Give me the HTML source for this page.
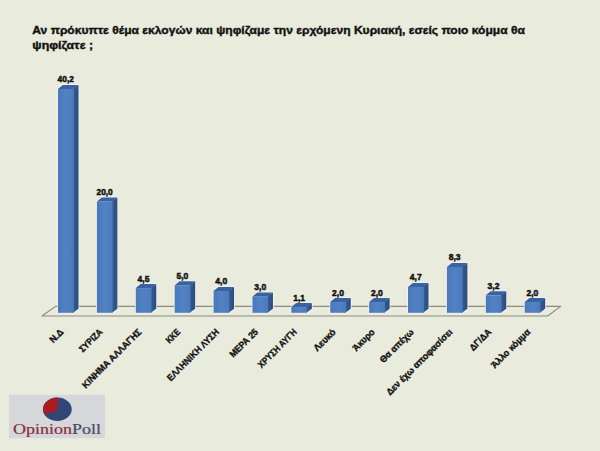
<!DOCTYPE html>
<html><head><meta charset="utf-8">
<style>
html,body{margin:0;padding:0;}
body{width:600px;height:451px;overflow:hidden;background:#E9EBDD;position:relative;}
svg{position:absolute;left:0;top:0;}
text{font-family:"Liberation Sans",sans-serif;font-weight:bold;fill:#111;stroke:#111;stroke-width:0.3px;}
.t{font-size:10.8px;stroke-width:0.38px;}
.v{font-size:9.2px;stroke-width:0.48px;}
.c{font-size:9.3px;stroke-width:0.36px;}
.lg{font-family:"Liberation Serif",serif;font-weight:normal;font-size:14px;stroke-width:0.22px;}
</style></head><body>
<svg width="600" height="451" viewBox="0 0 600 451">
<defs>
<linearGradient id="gf" x1="0" x2="1" y1="0" y2="0">
<stop offset="0" stop-color="#4A79BB"/><stop offset="0.5" stop-color="#5182C2"/><stop offset="1" stop-color="#4B7BBE"/>
</linearGradient>
<linearGradient id="gs" x1="0" x2="1" y1="0" y2="0">
<stop offset="0" stop-color="#365B93"/><stop offset="1" stop-color="#2D4C7C"/>
</linearGradient>
</defs>
<text class="t" x="32.3" y="33.7" textLength="492.7" lengthAdjust="spacingAndGlyphs">Αν πρόκυπτε θέμα εκλογών και ψηφίζαμε την ερχόμενη Κυριακή, εσείς ποιο κόμμα θα</text>
<text class="t" x="32.3" y="49.3" textLength="60.8" lengthAdjust="spacingAndGlyphs">ψηφίζατε ;</text>
<polygon points="42.0,316.0 547.7,316.0 560.6,306.4 55.6,306.4" fill="none" stroke="#8E8B7E" stroke-width="1.15" stroke-linejoin="round"/>
<g>
<polygon points="58.00,312.80 58.00,88.88 62.80,84.88 78.50,84.88 78.50,308.80 73.70,312.80" fill="none" stroke="#F6F7F2" stroke-width="1.6" stroke-opacity="0.8"/>
<polygon points="73.10,88.88 78.50,84.88 78.50,308.80 73.10,312.80" fill="url(#gs)"/>
<rect x="58.00" y="88.88" width="15.70" height="223.92" fill="url(#gf)"/>
<polygon points="58.00,88.88 62.80,84.88 78.50,84.88 73.70,88.88" fill="#3862A1"/>
</g>
<text x="65.75" y="82.38" class="v" text-anchor="middle" textLength="16.3" lengthAdjust="spacingAndGlyphs">40,2</text>
<text x="64.20" y="332.60" class="c" text-anchor="end" textLength="15.52" lengthAdjust="spacingAndGlyphs" transform="rotate(-45 64.20 332.60)">Ν.Δ</text>
<g>
<polygon points="96.89,312.80 96.89,201.60 101.69,197.60 117.39,197.60 117.39,308.80 112.59,312.80" fill="none" stroke="#F6F7F2" stroke-width="1.6" stroke-opacity="0.8"/>
<polygon points="111.99,201.60 117.39,197.60 117.39,308.80 111.99,312.80" fill="url(#gs)"/>
<rect x="96.89" y="201.60" width="15.70" height="111.20" fill="url(#gf)"/>
<polygon points="96.89,201.60 101.69,197.60 117.39,197.60 112.59,201.60" fill="#3862A1"/>
</g>
<text x="104.64" y="195.10" class="v" text-anchor="middle" textLength="16.3" lengthAdjust="spacingAndGlyphs">20,0</text>
<text x="103.09" y="332.60" class="c" text-anchor="end" textLength="28.58" lengthAdjust="spacingAndGlyphs" transform="rotate(-45 103.09 332.60)">ΣΥΡΙΖΑ</text>
<g>
<polygon points="135.78,312.80 135.78,288.09 140.58,284.09 156.28,284.09 156.28,308.80 151.48,312.80" fill="none" stroke="#F6F7F2" stroke-width="1.6" stroke-opacity="0.8"/>
<polygon points="150.88,288.09 156.28,284.09 156.28,308.80 150.88,312.80" fill="url(#gs)"/>
<rect x="135.78" y="288.09" width="15.70" height="24.71" fill="url(#gf)"/>
<polygon points="135.78,288.09 140.58,284.09 156.28,284.09 151.48,288.09" fill="#3862A1"/>
</g>
<text x="143.53" y="281.59" class="v" text-anchor="middle" textLength="11.9" lengthAdjust="spacingAndGlyphs">4,5</text>
<text x="141.98" y="332.60" class="c" text-anchor="end" textLength="79.64" lengthAdjust="spacingAndGlyphs" transform="rotate(-45 141.98 332.60)">ΚΙΝΗΜΑ ΑΛΛΑΓΗΣ</text>
<g>
<polygon points="174.67,312.80 174.67,285.30 179.47,281.30 195.17,281.30 195.17,308.80 190.37,312.80" fill="none" stroke="#F6F7F2" stroke-width="1.6" stroke-opacity="0.8"/>
<polygon points="189.77,285.30 195.17,281.30 195.17,308.80 189.77,312.80" fill="url(#gs)"/>
<rect x="174.67" y="285.30" width="15.70" height="27.50" fill="url(#gf)"/>
<polygon points="174.67,285.30 179.47,281.30 195.17,281.30 190.37,285.30" fill="#3862A1"/>
</g>
<text x="182.42" y="278.80" class="v" text-anchor="middle" textLength="11.9" lengthAdjust="spacingAndGlyphs">5,0</text>
<text x="180.87" y="332.60" class="c" text-anchor="end" textLength="16.19" lengthAdjust="spacingAndGlyphs" transform="rotate(-45 180.87 332.60)">ΚΚΕ</text>
<g>
<polygon points="213.56,312.80 213.56,290.88 218.36,286.88 234.06,286.88 234.06,308.80 229.26,312.80" fill="none" stroke="#F6F7F2" stroke-width="1.6" stroke-opacity="0.8"/>
<polygon points="228.66,290.88 234.06,286.88 234.06,308.80 228.66,312.80" fill="url(#gs)"/>
<rect x="213.56" y="290.88" width="15.70" height="21.92" fill="url(#gf)"/>
<polygon points="213.56,290.88 218.36,286.88 234.06,286.88 229.26,290.88" fill="#3862A1"/>
</g>
<text x="221.31" y="284.38" class="v" text-anchor="middle" textLength="11.9" lengthAdjust="spacingAndGlyphs">4,0</text>
<text x="219.76" y="332.60" class="c" text-anchor="end" textLength="69.43" lengthAdjust="spacingAndGlyphs" transform="rotate(-45 219.76 332.60)">ΕΛΛΗΝΙΚΗ ΛΥΣΗ</text>
<g>
<polygon points="252.45,312.80 252.45,296.46 257.25,292.46 272.95,292.46 272.95,308.80 268.15,312.80" fill="none" stroke="#F6F7F2" stroke-width="1.6" stroke-opacity="0.8"/>
<polygon points="267.55,296.46 272.95,292.46 272.95,308.80 267.55,312.80" fill="url(#gs)"/>
<rect x="252.45" y="296.46" width="15.70" height="16.34" fill="url(#gf)"/>
<polygon points="252.45,296.46 257.25,292.46 272.95,292.46 268.15,296.46" fill="#3862A1"/>
</g>
<text x="260.20" y="289.96" class="v" text-anchor="middle" textLength="11.9" lengthAdjust="spacingAndGlyphs">3,0</text>
<text x="258.65" y="332.60" class="c" text-anchor="end" textLength="36.03" lengthAdjust="spacingAndGlyphs" transform="rotate(-45 258.65 332.60)">ΜΕΡΑ 25</text>
<g>
<polygon points="291.34,312.80 291.34,307.06 296.14,303.06 311.84,303.06 311.84,308.80 307.04,312.80" fill="none" stroke="#F6F7F2" stroke-width="1.6" stroke-opacity="0.8"/>
<polygon points="306.44,307.06 311.84,303.06 311.84,308.80 306.44,312.80" fill="url(#gs)"/>
<rect x="291.34" y="307.06" width="15.70" height="5.74" fill="url(#gf)"/>
<polygon points="291.34,307.06 296.14,303.06 311.84,303.06 307.04,307.06" fill="#3862A1"/>
</g>
<text x="299.09" y="300.56" class="v" text-anchor="middle" textLength="11.9" lengthAdjust="spacingAndGlyphs">1,1</text>
<text x="297.54" y="332.60" class="c" text-anchor="end" textLength="50.78" lengthAdjust="spacingAndGlyphs" transform="rotate(-45 297.54 332.60)">ΧΡΥΣΗ ΑΥΓΗ</text>
<g>
<polygon points="330.23,312.80 330.23,302.04 335.03,298.04 350.73,298.04 350.73,308.80 345.93,312.80" fill="none" stroke="#F6F7F2" stroke-width="1.6" stroke-opacity="0.8"/>
<polygon points="345.33,302.04 350.73,298.04 350.73,308.80 345.33,312.80" fill="url(#gs)"/>
<rect x="330.23" y="302.04" width="15.70" height="10.76" fill="url(#gf)"/>
<polygon points="330.23,302.04 335.03,298.04 350.73,298.04 345.93,302.04" fill="#3862A1"/>
</g>
<text x="337.98" y="295.54" class="v" text-anchor="middle" textLength="11.9" lengthAdjust="spacingAndGlyphs">2,0</text>
<text x="336.43" y="332.60" class="c" text-anchor="end" textLength="26.97" lengthAdjust="spacingAndGlyphs" transform="rotate(-45 336.43 332.60)">Λευκό</text>
<g>
<polygon points="369.12,312.80 369.12,302.04 373.92,298.04 389.62,298.04 389.62,308.80 384.82,312.80" fill="none" stroke="#F6F7F2" stroke-width="1.6" stroke-opacity="0.8"/>
<polygon points="384.22,302.04 389.62,298.04 389.62,308.80 384.22,312.80" fill="url(#gs)"/>
<rect x="369.12" y="302.04" width="15.70" height="10.76" fill="url(#gf)"/>
<polygon points="369.12,302.04 373.92,298.04 389.62,298.04 384.82,302.04" fill="#3862A1"/>
</g>
<text x="376.87" y="295.54" class="v" text-anchor="middle" textLength="11.9" lengthAdjust="spacingAndGlyphs">2,0</text>
<text x="375.32" y="332.60" class="c" text-anchor="end" textLength="27.07" lengthAdjust="spacingAndGlyphs" transform="rotate(-45 375.32 332.60)">Άκυρο</text>
<g>
<polygon points="408.01,312.80 408.01,286.97 412.81,282.97 428.51,282.97 428.51,308.80 423.71,312.80" fill="none" stroke="#F6F7F2" stroke-width="1.6" stroke-opacity="0.8"/>
<polygon points="423.11,286.97 428.51,282.97 428.51,308.80 423.11,312.80" fill="url(#gs)"/>
<rect x="408.01" y="286.97" width="15.70" height="25.83" fill="url(#gf)"/>
<polygon points="408.01,286.97 412.81,282.97 428.51,282.97 423.71,286.97" fill="#3862A1"/>
</g>
<text x="415.76" y="280.47" class="v" text-anchor="middle" textLength="11.9" lengthAdjust="spacingAndGlyphs">4,7</text>
<text x="414.21" y="332.60" class="c" text-anchor="end" textLength="43.53" lengthAdjust="spacingAndGlyphs" transform="rotate(-45 414.21 332.60)">Θα απέχω</text>
<g>
<polygon points="446.90,312.80 446.90,266.89 451.70,262.89 467.40,262.89 467.40,308.80 462.60,312.80" fill="none" stroke="#F6F7F2" stroke-width="1.6" stroke-opacity="0.8"/>
<polygon points="462.00,266.89 467.40,262.89 467.40,308.80 462.00,312.80" fill="url(#gs)"/>
<rect x="446.90" y="266.89" width="15.70" height="45.91" fill="url(#gf)"/>
<polygon points="446.90,266.89 451.70,262.89 467.40,262.89 462.60,266.89" fill="#3862A1"/>
</g>
<text x="454.65" y="260.39" class="v" text-anchor="middle" textLength="11.9" lengthAdjust="spacingAndGlyphs">8,3</text>
<text x="453.10" y="332.60" class="c" text-anchor="end" textLength="89.29" lengthAdjust="spacingAndGlyphs" transform="rotate(-45 453.10 332.60)">Δεν έχω αποφασίσει</text>
<g>
<polygon points="485.79,312.80 485.79,295.34 490.59,291.34 506.29,291.34 506.29,308.80 501.49,312.80" fill="none" stroke="#F6F7F2" stroke-width="1.6" stroke-opacity="0.8"/>
<polygon points="500.89,295.34 506.29,291.34 506.29,308.80 500.89,312.80" fill="url(#gs)"/>
<rect x="485.79" y="295.34" width="15.70" height="17.46" fill="url(#gf)"/>
<polygon points="485.79,295.34 490.59,291.34 506.29,291.34 501.49,295.34" fill="#3862A1"/>
</g>
<text x="493.54" y="288.84" class="v" text-anchor="middle" textLength="11.9" lengthAdjust="spacingAndGlyphs">3,2</text>
<text x="491.99" y="332.60" class="c" text-anchor="end" textLength="26.60" lengthAdjust="spacingAndGlyphs" transform="rotate(-45 491.99 332.60)">ΔΓ/ΔΑ</text>
<g>
<polygon points="524.68,312.80 524.68,302.04 529.48,298.04 545.18,298.04 545.18,308.80 540.38,312.80" fill="none" stroke="#F6F7F2" stroke-width="1.6" stroke-opacity="0.8"/>
<polygon points="539.78,302.04 545.18,298.04 545.18,308.80 539.78,312.80" fill="url(#gs)"/>
<rect x="524.68" y="302.04" width="15.70" height="10.76" fill="url(#gf)"/>
<polygon points="524.68,302.04 529.48,298.04 545.18,298.04 540.38,302.04" fill="#3862A1"/>
</g>
<text x="532.43" y="295.54" class="v" text-anchor="middle" textLength="11.9" lengthAdjust="spacingAndGlyphs">2,0</text>
<text x="530.88" y="332.60" class="c" text-anchor="end" textLength="51.09" lengthAdjust="spacingAndGlyphs" transform="rotate(-45 530.88 332.60)">Άλλο κόμμα</text>
<rect x="9" y="394.8" width="96" height="43.4" fill="#D6D7DB"/>
<ellipse cx="57.3" cy="409.3" rx="14.4" ry="11.7" fill="#304677"/>
<path d="M57.6,410.2 L57.6,397.6 A14.4,11.7 0 0 0 44.6,414.4 Z" fill="#AC1B1F"/>
<text class="lg" x="13" y="434.3" textLength="88" lengthAdjust="spacingAndGlyphs"><tspan fill="#8A2F3A" stroke="#8A2F3A">Opinion</tspan><tspan fill="#474D66" stroke="#474D66">Poll</tspan></text>
</svg>
</body></html>
